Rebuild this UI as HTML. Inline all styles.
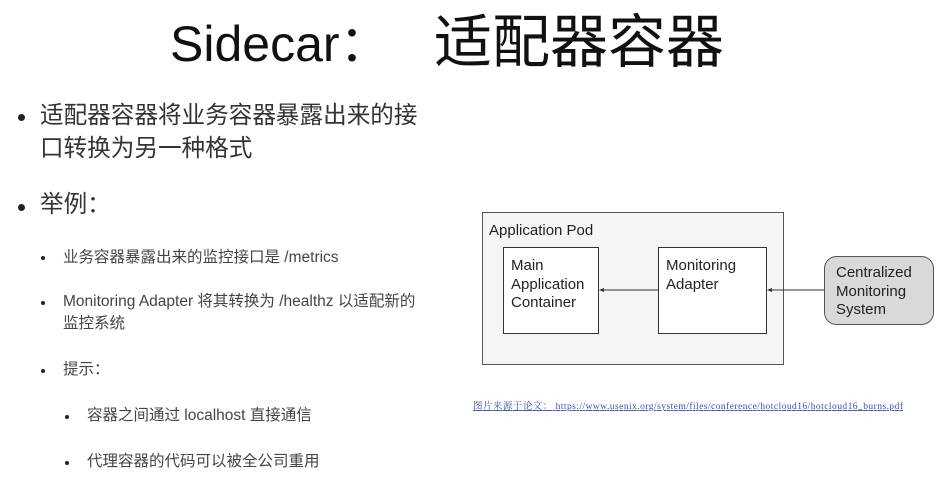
<!DOCTYPE html>
<html><head><meta charset="utf-8"><style>
body{margin:0;width:941px;height:492px;background:#fff;position:relative;overflow:hidden;font-family:"Liberation Sans","Noto Sans CJK SC",sans-serif;color:#222}
.a{position:absolute;white-space:nowrap}
.dot{position:absolute;border-radius:50%;background:#222}
</style></head><body>
<div class="a" style="left:170px;top:12px;font-size:50px;line-height:64px;color:#111">Sidecar：</div>
<div class="a" style="left:434px;top:10px;font-size:58px;line-height:66px;color:#111">适配器容器</div>

<div class="dot" style="left:18px;top:114px;width:7px;height:7px"></div>
<div class="a" style="left:40px;top:100px;font-size:23.6px;line-height:33px;color:#333">适配器容器将业务容器暴露出来的接<br>口转换为另一种格式</div>
<div class="dot" style="left:18px;top:204px;width:7px;height:7px"></div>
<div class="a" style="left:40px;top:189px;font-size:23.6px;line-height:33px;color:#333">举例：</div>

<div class="dot" style="left:41px;top:256px;width:4px;height:4px"></div>
<div class="a" style="left:63px;top:247px;font-size:15.5px;line-height:21px;color:#444">业务容器暴露出来的监控接口是 /metrics</div>
<div class="dot" style="left:41px;top:301px;width:4px;height:4px"></div>
<div class="a" style="left:63px;top:291px;font-size:15.5px;line-height:22px;color:#444">Monitoring Adapter 将其转换为 /healthz 以适配新的<br>监控系统</div>
<div class="dot" style="left:41px;top:369px;width:4px;height:4px"></div>
<div class="a" style="left:63px;top:359px;font-size:15.5px;line-height:21px;color:#444">提示：</div>
<div class="dot" style="left:65px;top:415px;width:4px;height:4px"></div>
<div class="a" style="left:87px;top:405px;font-size:15.5px;line-height:21px;color:#444">容器之间通过 localhost 直接通信</div>
<div class="dot" style="left:65px;top:461px;width:4px;height:4px"></div>
<div class="a" style="left:87px;top:451px;font-size:15.5px;line-height:21px;color:#444">代理容器的代码可以被全公司重用</div>

<svg class="a" style="left:0;top:0" width="941" height="492">
<rect x="482.5" y="212.5" width="301" height="152" fill="#f5f5f7" stroke="#555" stroke-width="1"/>
<rect x="503.5" y="247.5" width="95" height="86" fill="#fff" stroke="#333"/>
<rect x="658.5" y="247.5" width="108" height="86" fill="#fff" stroke="#333"/>
<rect x="824.5" y="256.5" width="109" height="68" rx="12" fill="#d9d9d9" stroke="#555"/>
<line x1="658" y1="290" x2="602" y2="290" stroke="#333"/>
<polygon points="599,290 604,288 604,292" fill="#333"/>
<line x1="824" y1="290" x2="770" y2="290" stroke="#333"/>
<polygon points="767,290 772,288 772,292" fill="#333"/>
<g font-family="Liberation Sans,sans-serif" font-size="15" fill="#222">
<text x="489" y="235">Application Pod</text>
<text x="511" y="270">Main</text><text x="511" y="289">Application</text><text x="511" y="307">Container</text>
<text x="666" y="270">Monitoring</text><text x="666" y="289">Adapter</text>
<text x="836" y="277">Centralized</text><text x="836" y="296">Monitoring</text><text x="836" y="314">System</text>
</g>
<text x="473" y="409" font-family="Liberation Serif,Noto Serif CJK SC,serif" font-size="9.5" fill="#3a4fa8" textLength="430" text-decoration="underline">图片来源于论文： https://www.usenix.org/system/files/conference/hotcloud16/hotcloud16_burns.pdf</text>
</svg>
</body></html>
